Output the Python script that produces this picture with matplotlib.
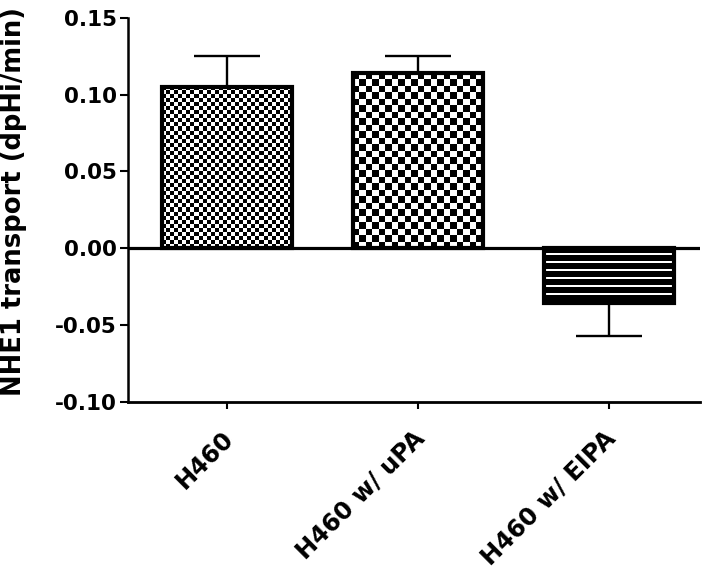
import numpy as np
import matplotlib.pyplot as plt
import matplotlib.transforms as mtransforms

groups = ['H460', 'H460 w/ uPA', 'H460 w/ EIPA']
transport = [0.105, 0.114, -0.036]
sem = [0.020, 0.011, 0.021]
patterns = ['check_fine', 'check_coarse', 'stripes']

plt.rcParams['font.family'] = 'DejaVu Sans'
plt.rcParams['font.weight'] = 'bold'

fig = plt.figure(figsize=(7.14, 5.73), dpi=100)
ax = fig.add_axes([0.1793, 0.2993, 0.8017, 0.6693])
ax.set_xlim(-0.518, 2.477)
ax.set_ylim(-0.10, 0.15)

x = np.arange(len(groups))
bars = ax.bar(x, transport, width=0.68, facecolor='none', edgecolor='black',
              linewidth=3, zorder=3)


def texture(kind, wpx, hpx):
    # build a small black/white texture that fills one bar
    if kind == 'stripes':
        ny = max(1, int(round(hpx / 2.0)))
        rows = (np.arange(ny) % 4 == 3).astype(float)
        return np.tile(rows[:, None], (1, 4))
    cell = 4.0 if kind == 'check_fine' else 6.4
    nx = max(1, int(round(wpx / cell)))
    ny = max(1, int(round(hpx / cell)))
    i, j = np.indices((ny, nx))
    return ((i + j) % 2).astype(float)


fig.canvas.draw()
for rect, kind in zip(bars.patches, patterns):
    x0, y0 = rect.get_x(), rect.get_y()
    x1, y1 = x0 + rect.get_width(), y0 + rect.get_height()
    ylo, yhi = min(y0, y1), max(y0, y1)
    p0 = ax.transData.transform((x0, ylo))
    p1 = ax.transData.transform((x1, yhi))
    img = texture(kind, abs(p1[0] - p0[0]), abs(p1[1] - p0[1]))
    im = ax.imshow(img, cmap='gray', vmin=0, vmax=1, extent=(x0, x1, ylo, yhi),
                   origin='upper', aspect='auto', interpolation='nearest', zorder=1)
    im.set_clip_path(rect)

ax.set_xlim(-0.518, 2.477)
ax.set_ylim(-0.10, 0.15)

lower = [e if v < 0 else 0 for v, e in zip(transport, sem)]
upper = [e if v >= 0 else 0 for v, e in zip(transport, sem)]
ax.errorbar(x, transport, yerr=[lower, upper], fmt='none', ecolor='black',
            elinewidth=1.7, capsize=24, capthick=1.7, zorder=2)

ax.axhline(0, color='black', linewidth=2.3, zorder=4)

ax.spines['top'].set_visible(False)
ax.spines['right'].set_visible(False)
ax.spines['left'].set_linewidth(1.8)
ax.spines['bottom'].set_linewidth(2.0)

ax.set_yticks([-0.10, -0.05, 0.00, 0.05, 0.10, 0.15])
ax.set_yticklabels(['%.2f' % t for t in [-0.10, -0.05, 0.00, 0.05, 0.10, 0.15]])
ax.tick_params(axis='y', length=6, width=1.5, pad=2, labelsize=15.5)
ax.set_xticks(x)
ax.set_xticklabels(groups, rotation=45, ha='right', rotation_mode='anchor')
ax.tick_params(axis='x', length=5, width=1.5, pad=13, labelsize=17.5)
shift = mtransforms.ScaledTranslation(-6 / 100, 0, fig.dpi_scale_trans)
for lab in ax.get_xticklabels():
    lab.set_transform(lab.get_transform() + shift)

ax.set_ylabel('NHE1 transport (dpHi/min)', fontsize=18.6, fontweight='bold')
ax.yaxis.set_label_coords(-0.1766, 0.5215)

fig.savefig('out.png', dpi=100)
